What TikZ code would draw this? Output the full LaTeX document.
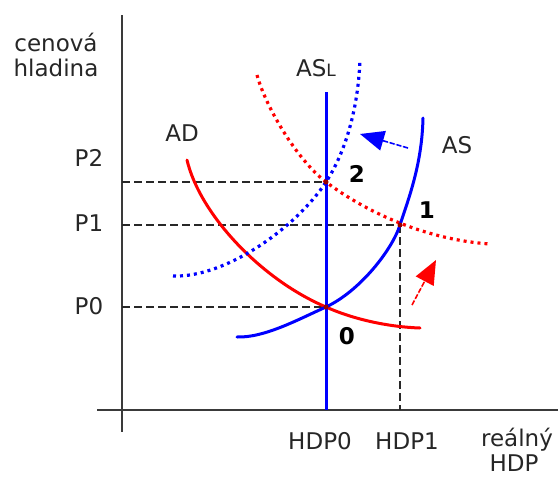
\documentclass[tikz,border=0pt]{standalone}
\usepackage{fontspec}
\setmainfont{DejaVu Sans}
\usetikzlibrary{arrows.meta}
\definecolor{cblue}{RGB}{0,0,255}
\definecolor{cred}{RGB}{255,0,0}
\definecolor{cdash}{RGB}{40,40,40}
\tikzset{
  axisline/.style={line width=1.8pt, draw=cdash!80!gray},
  guide/.style={line width=1.2pt, draw=cdash, dash pattern=on 8pt off 4pt},
  solidblue/.style={line width=3pt, draw=cblue, line cap=round, line join=round},
  solidred/.style={line width=3pt, draw=cred, line cap=round, line join=round},
  dotblue/.style={line width=3.2pt, draw=cblue, dash pattern=on 3pt off 4pt},
  dotred/.style={line width=3.2pt, draw=cred, dash pattern=on 3pt off 4pt},
  lbl/.style={font=\fontsize{23}{26}\selectfont, text=black!85, inner sep=0pt},
  numlbl/.style={font=\fontsize{23}{26}\selectfont\bfseries, inner sep=0pt},
  shiftarrow/.style={line width=1.6pt, dash pattern=on 5pt off 2pt, -{Triangle[length=24pt,width=20pt]}},
}
\begin{document}
\begin{tikzpicture}[x=1pt,y=-1pt]
\useasboundingbox (0,0) rectangle (558,477);
% axes
\coordinate (yt) at (122,15); \coordinate (yb) at (122,432);
\coordinate (xl) at (97,410); \coordinate (xr) at (558,410);
\draw[axisline] (yt) -- (yb);
\draw[axisline] (xl) -- (xr);
% equilibrium points
\coordinate (E0) at (326,307);
\coordinate (E1) at (400,225);
\coordinate (E2) at (326,182);
% guides
\draw[guide] (122,182) -- (E2);
\draw[guide] (122,225) -- (E1);
\draw[guide] (122,307) -- (E0);
\draw[guide] (E1) -- (400,410);
% AD
\draw[solidred] (187,160) .. controls (200,215) and (262,280) .. (E0)
  .. controls (355,320) and (390,327) .. (420,328);
% AD'
\draw[dotred] (257,75) .. controls (265,105) and (296,159) .. (E2)
  .. controls (370,215) and (430,240) .. (490,244);
% ASL
\draw[solidblue, line cap=butt] (326,92) -- (326,410);
% AS
\draw[solidblue] (237,337) .. controls (265,338) and (301,318) .. (E0)
  .. controls (360,291) and (392,250) .. (E1)
  .. controls (408,200) and (422,165) .. (423,118);
% AS'
\draw[dotblue] (173,276) .. controls (225,278) and (296,228) .. (E2)
  .. controls (345,153) and (358,110) .. (360,60);
% dots
\fill[cred!60!black] (E0) circle (2.5pt);
\fill[cred!60!black] (E1) circle (2.5pt);
\fill[cred!60!black] (E2) circle (2.5pt);
% shift arrows
\coordinate (ba) at (408,148); \coordinate (bb) at (360,134);
\draw[shiftarrow, draw=cblue, fill=cblue] (ba) -- (bb);
\coordinate (ra) at (412,305); \coordinate (rb) at (436,260);
\draw[shiftarrow, draw=cred, fill=cred] (ra) -- (rb);
% labels
\node[lbl] (c1) at (56,42) {cenová};
\node[lbl] (c2) at (56,68) {hladina};
\node[lbl] (p2) at (89,158) {P2};
\node[lbl] (p1) at (89,223) {P1};
\node[lbl] (p0) at (89,306) {P0};
\node[lbl] (ad) at (182,133) {AD};
\node[lbl] (asl) at (316,68) {AS{\fontsize{17}{20}\selectfont L}};
\node[lbl] (as) at (457,145) {AS};
\node[numlbl] (n2) at (357,174) {2};
\node[numlbl] (n1) at (427,210) {1};
\node[numlbl] (n0) at (347,336) {0};
\node[lbl] (h0) at (320,441) {HDP0};
\node[lbl] (h1) at (407,441) {HDP1};
\node[lbl] (r1) at (517,440) {reálný};
\node[lbl] (r2) at (514,463) {HDP};
\end{tikzpicture}
\end{document}
